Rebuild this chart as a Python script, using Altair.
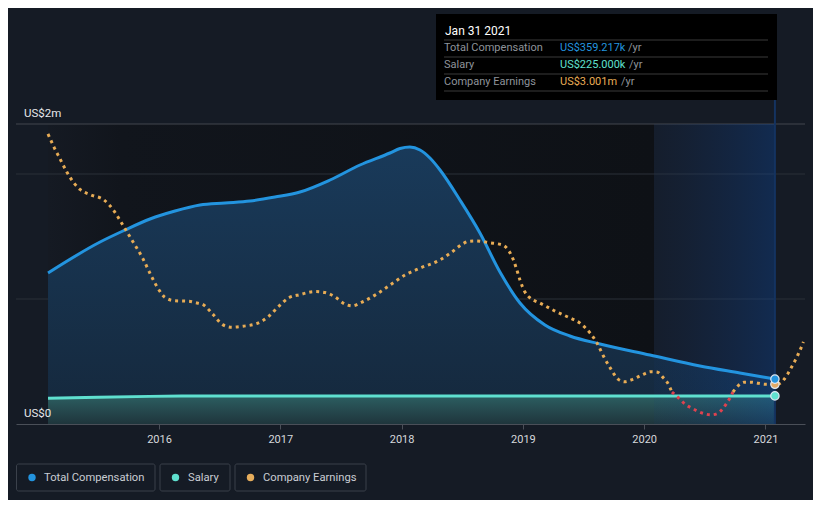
import altair as alt
import pandas as pd

FONT = "Roboto"
BG = "#151b25"
C_COMP = "#2394df"
C_SAL = "#5fe0cf"
C_EARN = "#e8ac55"
C_NEG = "#e0424f"

# ---- data (decimal years, US$k for pay, US$m for earnings) ----
COMP_YEARS = [2015.085, 2015.514, 2015.720, 2015.926, 2016.132, 2016.338, 2016.544, 2016.750, 2016.956,
              2017.162, 2017.410, 2017.657, 2017.904, 2017.987, 2018.069, 2018.152, 2018.234, 2018.317,
              2018.481, 2018.646, 2018.811, 2018.976, 2019.182, 2019.388, 2019.636, 2020.048, 2020.460,
              2020.789, 2021.078]
COMP_K = [1208, 1456, 1552, 1640, 1704, 1752, 1768, 1784, 1816,
          1856, 1952, 2072, 2168, 2204, 2216, 2192, 2128, 2032,
          1792, 1528, 1216, 968, 792, 704, 640, 552, 464,
          408, 359.217]

SALARY_YEARS = [2015.085, 2015.5, 2015.92, 2016.3, 2016.8, 2017.5, 2018.5, 2019.5, 2020.5, 2021.078]
SALARY_K = [206, 214, 221, 224, 225, 225, 225, 225, 225, 225]

EARN_YEARS = [2015.085, 2015.134, 2015.184, 2015.239, 2015.299, 2015.349, 2015.439, 2015.547, 2015.627, 2015.687,
              2015.777, 2015.866, 2015.942, 2016.000, 2016.049, 2016.132, 2016.247, 2016.305, 2016.363, 2016.445,
              2016.525, 2016.602, 2016.692, 2016.805, 2016.899, 2016.984, 2017.072, 2017.162, 2017.286, 2017.369,
              2017.451, 2017.533, 2017.591, 2017.674, 2017.781, 2017.904, 2018.028, 2018.152, 2018.317, 2018.407,
              2018.500, 2018.550, 2018.608, 2018.723, 2018.836, 2018.877, 2018.908, 2018.943, 2018.976, 2019.017,
              2019.059, 2019.141, 2019.265, 2019.388, 2019.471, 2019.553, 2019.611, 2019.663, 2019.721, 2019.787,
              2019.839, 2019.894, 2019.946, 2019.998, 2020.054, 2020.111, 2020.155, 2020.190, 2020.229, 2020.295,
              2020.339, 2020.386, 2020.438, 2020.493, 2020.551, 2020.603, 2020.647, 2020.680, 2020.710, 2020.732,
              2020.776, 2020.825, 2020.883, 2020.941, 2020.998, 2021.078, 2021.120, 2021.153, 2021.183, 2021.213,
              2021.243, 2021.268, 2021.290, 2021.313]
EARN_M = [100.4, 95.3, 90.7, 85.7, 81.3, 78.8, 76.7, 74.7, 70.6, 66.1,
          59.1, 52.0, 44.6, 39.7, 36.8, 35.5, 35.3, 34.7, 34.0, 30.2,
          26.2, 25.2, 25.6, 26.6, 29.2, 33.2, 36.7, 37.9, 39.1, 38.7,
          37.0, 34.2, 33.5, 35.0, 37.7, 41.6, 45.5, 48.2, 51.4, 54.2,
          57.5, 58.6, 58.8, 58.1, 57.1, 55.4, 52.9, 48.6, 43.6, 38.9,
          36.6, 34.6, 31.5, 28.8, 26.8, 23.0, 19.1, 14.1, 9.3, 4.9,
          4.0, 4.7, 5.8, 7.0, 7.9, 7.7, 5.7, 3.8, 0.0, -2.8,
          -4.8, -6.1, -7.4, -8.4, -8.9, -8.4, -6.6, -4.4, -2.1, 0.0,
          2.5, 3.8, 3.8, 3.4, 3.0, 3.001, 3.4, 4.9, 7.0, 9.5,
          12.1, 14.5, 16.8, 19.5]

YEAR_TICKS = [2016, 2017, 2018, 2019, 2020, 2021]
X_DOMAIN = [2014.821, 2021.326]
COMP_DOMAIN = [0, 2400]
EARN_DOMAIN = [-12.45, 104.28]
GRID_K = [1000, 2000]
Y_LABELS = ["US$0", "US$2m"]
Y_LABEL_K = [0, 2400]
DARK_START, HILITE_START, LATEST = 2015.085, 2020.081, 2021.078
LATEST_COMP_K, LATEST_SAL_K, LATEST_EARN_M = 359.217, 225.0, 3.001

# ---- frames ----
comp_df = pd.DataFrame({"year": COMP_YEARS, "v": COMP_K})
sal_df = pd.DataFrame({"year": SALARY_YEARS, "v": SALARY_K})
rows, seg = [], 0
for i, (yr, v) in enumerate(zip(EARN_YEARS, EARN_M)):
    rows.append({"seg": seg, "year": yr, "v": v})
    if v == 0 and 0 < i < len(EARN_M) - 1:
        seg += 1
        rows.append({"seg": seg, "year": yr, "v": v})
earn_df = pd.DataFrame(rows)
neg_segs = set(earn_df.loc[earn_df.v < 0, "seg"])
earn_df["sign"] = ["neg" if s in neg_segs else "pos" for s in earn_df.seg]

xs = alt.Scale(domain=X_DOMAIN, nice=False, zero=False)
ycs = alt.Scale(domain=COMP_DOMAIN, nice=False, zero=False)
yes = alt.Scale(domain=EARN_DOMAIN, nice=False, zero=False)
XAX = alt.Axis(values=YEAR_TICKS, format="d", grid=False, domainColor="#4a4f58", tickColor="#4a4f58",
               tickSize=5, labelColor="#d5d8dc", labelFontSize=11, labelFont=FONT, labelPadding=4,
               title=None, labelFlush=False)
X = alt.X("year:Q", scale=xs, axis=XAX)
YC = alt.Y("v:Q", scale=ycs, axis=None)
YE = alt.Y("v:Q", scale=yes, axis=None)

ONE = alt.Data(values=[{"a": 1}])


def txt(s, x, y, color, size=11, align="left"):
    return alt.Chart(ONE).mark_text(text=s, align=align, baseline="middle", color=color,
                                    fontSize=size, font=FONT).encode(x=alt.value(x), y=alt.value(y))


def box(x, y, x2, y2, fill, stroke=None, radius=0):
    kw = dict(fill=fill, cornerRadius=radius)
    if stroke:
        kw.update(stroke=stroke, strokeWidth=1)
    return alt.Chart(ONE).mark_rect(**kw).encode(x=alt.value(x), x2=alt.value(x2),
                                                 y=alt.value(y), y2=alt.value(y2))


def hline(x, x2, y, color):
    return alt.Chart(ONE).mark_rule(color=color, strokeWidth=1).encode(
        x=alt.value(x), x2=alt.value(x2), y=alt.value(y))


def dot(x, y, color):
    return alt.Chart(ONE).mark_point(filled=True, fill=color, size=55, opacity=1, strokeWidth=0).encode(
        x=alt.value(x), y=alt.value(y))


span_df = pd.DataFrame({"year": [DARK_START], "year2": [HILITE_START]})
band_df = pd.DataFrame({"year": [HILITE_START], "year2": [LATEST]})

dark_bg = alt.Chart(span_df).mark_rect(fill=alt.LinearGradient(
    gradient="linear", x1=0, x2=1, y1=0, y2=0,
    stops=[alt.GradientStop(offset=0, color="#151a23"), alt.GradientStop(offset=0.12, color="#11151c"),
           alt.GradientStop(offset=1, color="#0e1116")])).encode(
    x=X, x2="year2:Q", y=alt.value(0), y2=alt.value(300))

grid = alt.Chart(pd.DataFrame({"v": GRID_K})).mark_rule(color="#2b3039", strokeWidth=1).encode(y=YC)
top_line = alt.Chart(pd.DataFrame({"v": [COMP_DOMAIN[1]]})).mark_rule(color="#42474f", strokeWidth=1).encode(y=YC)

comp_area = alt.Chart(comp_df).mark_area(interpolate="monotone", fill=alt.LinearGradient(
    gradient="linear", x1=0, x2=0, y1=0, y2=1,
    stops=[alt.GradientStop(offset=0, color="#193a5a"), alt.GradientStop(offset=1, color="#15283c")])).encode(x=X, y=YC)
sal_area = alt.Chart(sal_df).mark_area(interpolate="monotone", fill=alt.LinearGradient(
    gradient="linear", x1=0, x2=0, y1=0, y2=1,
    stops=[alt.GradientStop(offset=0, color="#2c5e61"), alt.GradientStop(offset=1, color="#1f353c")])).encode(x=X, y=YC)

band = alt.Chart(band_df).mark_rect(fill=alt.LinearGradient(
    gradient="linear", x1=0, x2=1, y1=0, y2=0,
    stops=[alt.GradientStop(offset=0, color="rgba(20,60,130,0.08)"),
           alt.GradientStop(offset=1, color="rgba(10,80,180,0.30)")])).encode(
    x=X, x2="year2:Q", y=alt.value(0), y2=alt.value(300))

vline = alt.Chart(pd.DataFrame({"year": [LATEST]})).mark_rule(color="#143360", strokeWidth=2).encode(
    x=X, y=alt.value(-24), y2=alt.value(300))

comp_line = alt.Chart(comp_df).mark_line(interpolate="monotone", color=C_COMP, strokeWidth=3).encode(x=X, y=YC)
sal_line = alt.Chart(sal_df).mark_line(interpolate="monotone", color=C_SAL, strokeWidth=3).encode(x=X, y=YC)
earn_line = alt.Chart(earn_df).mark_line(interpolate="monotone", strokeWidth=3, strokeDash=[3, 4]).encode(
    x=X, y=YE, detail="seg:N",
    color=alt.Color("sign:N", scale=alt.Scale(domain=["pos", "neg"], range=[C_EARN, C_NEG]), legend=None))

end_comp = alt.Chart(pd.DataFrame({"year": [LATEST, LATEST], "v": [LATEST_COMP_K, LATEST_SAL_K],
                                   "k": ["c", "s"]})).mark_point(
    filled=True, size=70, stroke="#dde8f2", strokeWidth=1.2, opacity=1).encode(
    x=X, y=YC, fill=alt.Fill("k:N", scale=alt.Scale(domain=["c", "s"], range=[C_COMP, C_SAL]), legend=None))
end_earn = alt.Chart(pd.DataFrame({"year": [LATEST], "v": [LATEST_EARN_M]})).mark_point(
    filled=True, size=70, fill="#e2aa66", stroke="#dde8f2", strokeWidth=1.2, opacity=1).encode(x=X, y=YE)

ylab = alt.Chart(pd.DataFrame({"v": Y_LABEL_K, "t": Y_LABELS})).mark_text(
    align="left", baseline="bottom", dy=-5, color="#e6e8eb", fontSize=11.5, font=FONT).encode(
    x=alt.value(8), y=YC, text="t:N")

# tooltip box
tip = [
    box(420, -110, 761, -24, "#000000"),
    txt("Jan 31 2021", 429, -93, "#ffffff", 12),
    hline(428, 752, -84, "#3a3a3a"), hline(428, 752, -67, "#3a3a3a"),
    hline(428, 752, -50, "#3a3a3a"), hline(428, 752, -33, "#3a3a3a"),
    txt("Total Compensation", 428, -76, "#8e939a"),
    txt("US$359.217k", 544, -76, C_COMP), txt("/yr", 612, -76, "#8e939a"),
    txt("Salary", 428, -59, "#8e939a"),
    txt("US$225.000k", 544, -59, C_SAL), txt("/yr", 613, -59, "#8e939a"),
    txt("Company Earnings", 428, -42, "#8e939a"),
    txt("US$3.001m", 544, -42, C_EARN), txt("/yr", 605, -42, "#8e939a"),
]

# legend boxes
leg = [
    box(0.5, 340, 139, 367, BG, "#3b414b", 2),
    box(144, 340, 214, 367, BG, "#3b414b", 2),
    box(219, 340, 350, 367, BG, "#3b414b", 2),
    dot(16, 353.5, C_COMP), txt("Total Compensation", 28, 353.5, "#c9cdd3", 11.2),
    dot(159.5, 353.5, C_SAL), txt("Salary", 172, 353.5, "#c9cdd3", 11.2),
    dot(234.5, 353.5, "#e6ad5c"), txt("Company Earnings", 247, 353.5, "#c9cdd3", 11.2),
]

chart = alt.layer(
    dark_bg, grid, top_line, comp_area, sal_area, band, vline,
    comp_line, sal_line, earn_line, end_earn, end_comp, ylab, *tip, *leg
).resolve_scale(y="independent", fill="independent").properties(
    width=789, height=300,
    padding={"left": 8, "top": 116, "right": 8, "bottom": 76},
    autosize=alt.AutoSizeParams(type="none"),
).configure(background=BG).configure_view(strokeWidth=0)

chart.save("out.html", embed_options={"renderer": "svg", "actions": False})
